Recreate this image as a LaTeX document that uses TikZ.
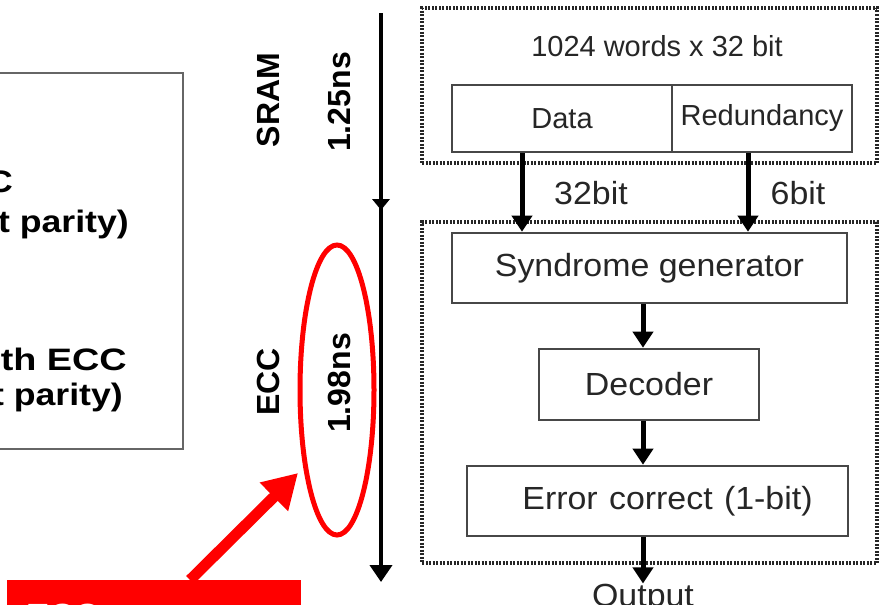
\documentclass[tikz,border=0pt]{standalone}
\usepackage{graphicx}
\usepackage{fontspec}
\setmainfont{Liberation Sans}
\usetikzlibrary{arrows.meta,shapes.geometric}

% horizontally widened text, as the slide's lettering is
\newcommand{\widetxt}[2]{\scalebox{#1}[1]{#2}}

\tikzset{
  blk/.style={draw=black!72, line width=2.6pt, fill=white, inner sep=0pt,
              font=\fontsize{32}{36}\selectfont, text=black!85},
  grp/.style={draw=black!85, line width=4pt, dash pattern=on 2pt off 1.5pt},
  flow/.style={line width=5pt, -{Triangle[width=20pt,length=16pt]}},
  lbl/.style={font=\fontsize{32}{36}\selectfont, text=black!85, inner sep=0pt},
  toplbl/.style={font=\fontsize{29}{33}\selectfont, text=black!85, inner sep=0pt},
  vlbl/.style={font=\bfseries\fontsize{32}{36}\selectfont, rotate=90, inner sep=0pt},
  side/.style={font=\bfseries\fontsize{31}{35}\selectfont, inner sep=0pt, anchor=base east},
}

\begin{document}
\begin{tikzpicture}[x=1pt,y=-1pt]
\useasboundingbox (0,0) rectangle (881,605);
\clip (0,0) rectangle (881,605);

% comparison panel on the left, running off the edge
\node[draw=black!60, line width=2pt, minimum width=400pt, minimum height=376pt, inner sep=0pt]
  (panel) at (-17,261) {};
\node[side] (p1) at (13,192) {\widetxt{1.15}{Without ECC}};
\node[side] (p2) at (129,232) {\widetxt{1.15}{(1-bit parity)}};
\node[side] (p3) at (127,370) {\widetxt{1.22}{With ECC}};
\node[side] (p4) at (123,405) {\widetxt{1.15}{(6-bit parity)}};

% memory array
\node[grp, minimum width=455pt, minimum height=155pt, inner sep=0pt] (mem) at (649.5,85.5) {};
\node[toplbl] (size) at (657,46) {1024 words x 32 bit};
\node[blk, toplbl, minimum width=220pt, minimum height=67pt] (data) at (562,118.5) {\raisebox{-3pt}{Data}};
\node[blk, toplbl, minimum width=180pt, minimum height=67pt] (red) at (762,118.5) {\raisebox{-3pt}{Redundancy}};

% ECC logic
\node[grp, minimum width=455pt, minimum height=341pt, inner sep=0pt] (ecc) at (649.5,392.5) {};
\node[blk, minimum width=395pt, minimum height=70pt] (syn) at (649.5,268) {\widetxt{1.06}{Syndrome generator}};
\node[blk, minimum width=220pt, minimum height=71pt] (dec) at (649,384.5) {\widetxt{1.06}{Decoder}};
\node[blk, minimum width=381pt, minimum height=70pt, text width=381pt, align=center] (cor) at (657.5,501)
  {\hspace*{20pt}\widetxt{1.06}{Error correct (1-bit)}};
\node[lbl, anchor=base] (out) at (643,606) {\widetxt{1.06}{Output}};

\coordinate (cA) at (522,0);
\coordinate (cB) at (748,0);
\coordinate (cC) at (643,0);
\draw[flow] (data.south -| cA) -- (syn.north -| cA);
\draw[flow] (red.south -| cB) -- (syn.north -| cB);
\node[lbl] (w32) at (591,193) {\widetxt{1.06}{32bit}};
\node[lbl] (w6) at (798,193) {\widetxt{1.06}{6bit}};
\draw[flow] (syn.south -| cC) -- (dec.north -| cC);
\draw[flow] (dec.south -| cC) -- (cor.north -| cC);
\draw[flow] (cor.south -| cC) -- (out.north -| cC);

% time axis
\coordinate (tTop) at (381,13);
\coordinate (tMid) at (381,210);
\coordinate (tBot) at (381,582);
\draw[line width=4pt, -{Triangle[width=22pt,length=17pt]}] (tTop) -- (tBot);
\fill (tMid) -- ++(-9,-11) -- ++(18,0) -- cycle;

\node[vlbl] (sram) at (268,100) {SRAM};
\node[vlbl] (t1) at (339,102) {1.25ns};
\node[vlbl] (eccl) at (268,382) {ECC};
\node[vlbl] (t2) at (339,383) {1.98ns};

% highlight
\node[ellipse, draw=red, line width=5pt, minimum width=74pt, minimum height=290pt, inner sep=0pt]
  (hl) at (337,390) {};
\node[fill=red, minimum width=294pt, minimum height=60pt, inner sep=0pt] (tag) at (154,610) {};
\node[font=\bfseries\fontsize{35}{40}\selectfont, text=white, anchor=base west, inner sep=0pt]
  (tagtxt) at (26,628) {ECC};
\coordinate (aS) at (190,580);
\coordinate (aT) at (298,473);
\draw[red, line width=11pt, -{Triangle[width=38pt,length=34pt]}] (aS) -- (aT);
\end{tikzpicture}
\end{document}
